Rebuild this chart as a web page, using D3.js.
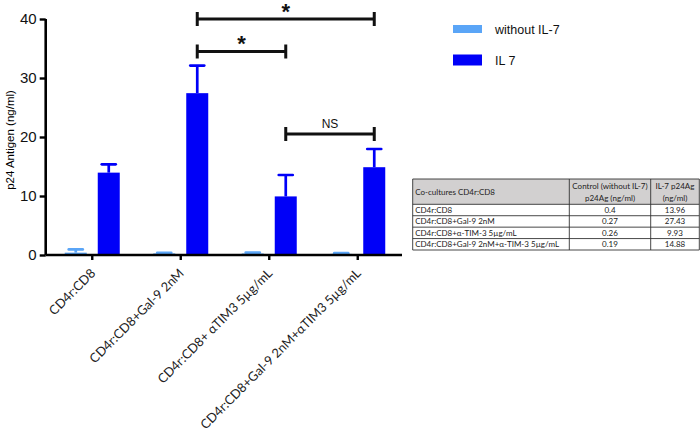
<!DOCTYPE html>
<html>
<head>
<meta charset="utf-8">
<script src="https://cdn.jsdelivr.net/npm/d3@7"></script>
<style>
  body { margin: 0; background: #fff; }
  svg { display: block; }
</style>
</head>
<body>
<div id="chart"></div>
<script>
const categories = [
  "CD4r:CD8",
  "CD4r:CD8+Gal-9 2nM",
  "CD4r:CD8+ \u03b1TIM3 5\u00b5g/mL",
  "CD4r:CD8+Gal-9 2nM+\u03b1TIM3 5\u00b5g/mL",
];
const seriesNames = ["without IL-7", "IL 7"];
const withoutIL7 = [0.4, 0.27, 0.26, 0.19];
const withIL7 = [13.96, 27.43, 9.93, 14.88];
const withoutErr = [0.55, 0.1, 0.15, 0.12];
const withErr = [1.41, 4.67, 3.63, 3.09];
const yTicks = [0, 10, 20, 30, 40];

// significance brackets (between IL 7 bars)
const bracketFrom = [1, 1, 2];
const bracketTo = [3, 2, 3];
const bracketY = [40, 34.5, 20.5];
const bracketLabel = ["*", "*", "NS"];

// summary table
const tableRows = [
  "CD4r:CD8",
  "CD4r:CD8+Gal-9 2nM",
  "CD4r:CD8+\u03b1-TIM-3 5\u00b5g/mL",
  "CD4r:CD8+Gal-9 2nM+\u03b1-TIM-3 5\u00b5g/mL",
];
const tableHead = [
  ["Co-cultures CD4r:CD8"],
  ["Control (without IL-7)", "p24Ag (ng/ml)"],
  ["IL-7 p24Ag", "(ng/ml)"],
];

const colors = ["#5aa5f7", "#0000f8"];
const w = 700;
const h = 433;
const axisX = 45.7;
const axisY = 255;

const svg = d3
  .select("#chart")
  .append("svg")
  .attr("width", w)
  .attr("height", h)
  .style("font-family", "'Liberation Sans', Arial, sans-serif");

const x = d3.scaleBand().domain(categories).range([48, 402]);
const bw = x.bandwidth();
const xSub = d3
  .scaleBand()
  .domain(seriesNames)
  .range([bw / 2 - 33, bw / 2 + 33])
  .paddingInner(1 / 3)
  .paddingOuter(1 / 6);
const y = d3.scaleLinear().domain([0, 40]).range([axisY, 19]);

const series = [
  { name: seriesNames[0], values: withoutIL7, err: withoutErr },
  { name: seriesNames[1], values: withIL7, err: withErr },
];

// bars
series.forEach((s, si) => {
  const g = svg.append("g").attr("class", "series");
  const cx = (i) => x(categories[i]) + xSub(s.name) + xSub.bandwidth() / 2;
  g.selectAll("rect")
    .data(s.values)
    .enter()
    .append("rect")
    .attr("x", (d, i) => x(categories[i]) + xSub(s.name))
    .attr("y", (d) => y(d))
    .attr("width", xSub.bandwidth())
    .attr("height", (d) => axisY - y(d))
    .attr("fill", colors[si]);
  // error bars (upper only)
  g.selectAll("line.err")
    .data(s.values)
    .enter()
    .append("line")
    .attr("class", "err")
    .attr("x1", (d, i) => cx(i))
    .attr("x2", (d, i) => cx(i))
    .attr("y1", (d) => y(d))
    .attr("y2", (d, i) => y(d + s.err[i]))
    .attr("stroke", colors[si])
    .attr("stroke-width", 2.7);
  g.selectAll("line.cap")
    .data(s.values)
    .enter()
    .append("line")
    .attr("class", "cap")
    .attr("x1", (d, i) => cx(i) - 7)
    .attr("x2", (d, i) => cx(i) + 7)
    .attr("y1", (d, i) => y(d + s.err[i]))
    .attr("y2", (d, i) => y(d + s.err[i]))
    .attr("stroke", colors[si])
    .attr("stroke-width", 2.7)
    .attr("stroke-linecap", "round");
});

// y axis
const yAxis = svg
  .append("g")
  .attr("transform", `translate(${axisX},0)`)
  .call(d3.axisLeft(y).tickValues(yTicks).tickSize(6).tickPadding(3));
yAxis.select(".domain").attr("stroke-width", 2.6).attr("d", `M0,${y(40)}V${axisY}`);
yAxis.selectAll(".tick line").attr("stroke-width", 2.4);
yAxis.selectAll(".tick text").style("font-size", "15px").attr("fill", "#111");

// x axis
const xAxis = svg
  .append("g")
  .attr("transform", `translate(0,${axisY})`)
  .call(d3.axisBottom(x).tickSize(5));
xAxis.select(".domain").attr("stroke-width", 2.6).attr("d", `M${axisX},0H402`);
xAxis.selectAll(".tick line").attr("stroke-width", 2.4);
xAxis
  .selectAll(".tick text")
  .attr("y", 0)
  .attr("dy", 0)
  .attr("transform", "translate(4,19) rotate(-45)")
  .attr("text-anchor", "end")
  .style("font-family", "Lato, 'Open Sans', sans-serif")
  .style("font-size", "12.8px")
  .attr("fill", "#222");

// y label
svg
  .append("text")
  .attr("transform", `translate(14,${y(20) + 3}) rotate(-90)`)
  .attr("text-anchor", "middle")
  .style("font-size", "11.5px")
  .text("p24 Antigen (ng/ml)");

// significance brackets
const barCenter = (i) =>
  x(categories[i]) + xSub(seriesNames[1]) + xSub.bandwidth() / 2;
const br = svg.append("g").attr("class", "brackets");
bracketFrom.forEach((f, k) => {
  const x1 = barCenter(f);
  const x2 = barCenter(bracketTo[k]);
  const yy = y(bracketY[k]);
  br.append("path")
    .attr("d", `M${x1},${yy}H${x2}M${x1},${yy - 7}V${yy + 7}M${x2},${yy - 7}V${yy + 7}`)
    .attr("stroke", "#111")
    .attr("stroke-width", 3)
    .attr("fill", "none");
  const isStar = bracketLabel[k] === "*";
  br.append("text")
    .attr("x", (x1 + x2) / 2)
    .attr("y", isStar ? yy : yy - 6)
    .attr("text-anchor", "middle")
    .style("font-size", isStar ? "22px" : "12px")
    .style("font-weight", isStar ? "bold" : "normal")
    .attr("fill", "#111")
    .text(bracketLabel[k]);
});

// legend
const legend = svg
  .append("g")
  .selectAll("g")
  .data(seriesNames)
  .enter()
  .append("g")
  .attr("transform", (d, i) => `translate(453,${29 + i * 31})`);
legend
  .append("rect")
  .attr("x", 0)
  .attr("y", (d, i) => (i === 0 ? -4 : -5.5))
  .attr("width", 29)
  .attr("height", (d, i) => (i === 0 ? 8 : 11))
  .attr("fill", (d, i) => colors[i]);
legend
  .append("text")
  .attr("x", 42)
  .attr("y", 4.5)
  .style("font-size", "12.5px")
  .attr("fill", "#111")
  .text((d) => d);

// table
const colEdges = [412.7, 569.3, 650.7, 699.3];
const tTop = 179;
const headH = 25.3;
const rowY = d3
  .scaleBand()
  .domain(tableRows)
  .range([tTop + headH, 250]);
const table = svg
  .append("g")
  .attr("class", "table")
  .style("font-family", "Lato, 'Open Sans', sans-serif")
  .style("font-size", "8px")
  .attr("fill", "#222");
table
  .append("rect")
  .attr("x", colEdges[0])
  .attr("y", tTop)
  .attr("width", colEdges[3] - colEdges[0])
  .attr("height", headH)
  .attr("fill", "#d2d0d0");
tableHead.forEach((lines, c) => {
  const cx = c === 0 ? colEdges[0] + 2.5 : (colEdges[c] + colEdges[c + 1]) / 2;
  lines.forEach((t, li) => {
    table
      .append("text")
      .attr("x", cx)
      .attr("y", tTop + (lines.length === 1 ? 15.5 : 10 + li * 11.5))
      .attr("text-anchor", c === 0 ? "start" : "middle")
      .text(t);
  });
});
const bodyCols = [tableRows, withoutIL7, withIL7];
bodyCols.forEach((vals, c) => {
  table
    .selectAll(null)
    .data(vals)
    .enter()
    .append("text")
    .attr("x", c === 0 ? colEdges[0] + 2.5 : (colEdges[c] + colEdges[c + 1]) / 2)
    .attr("y", (d, i) => rowY(tableRows[i]) + rowY.bandwidth() / 2 + 3)
    .attr("text-anchor", c === 0 ? "start" : "middle")
    .text((d) => String(d));
});
// grid lines
const hLines = [tTop, tTop + headH].concat(tableRows.map((r) => rowY(r) + rowY.bandwidth()));
table
  .selectAll("line.h")
  .data(hLines)
  .enter()
  .append("line")
  .attr("x1", colEdges[0])
  .attr("x2", colEdges[3])
  .attr("y1", (d) => d)
  .attr("y2", (d) => d)
  .attr("stroke", "#333")
  .attr("stroke-width", 0.9);
table
  .selectAll("line.v")
  .data(colEdges)
  .enter()
  .append("line")
  .attr("x1", (d) => d)
  .attr("x2", (d) => d)
  .attr("y1", tTop)
  .attr("y2", 250)
  .attr("stroke", "#333")
  .attr("stroke-width", 0.9);
</script>
</body>
</html>
